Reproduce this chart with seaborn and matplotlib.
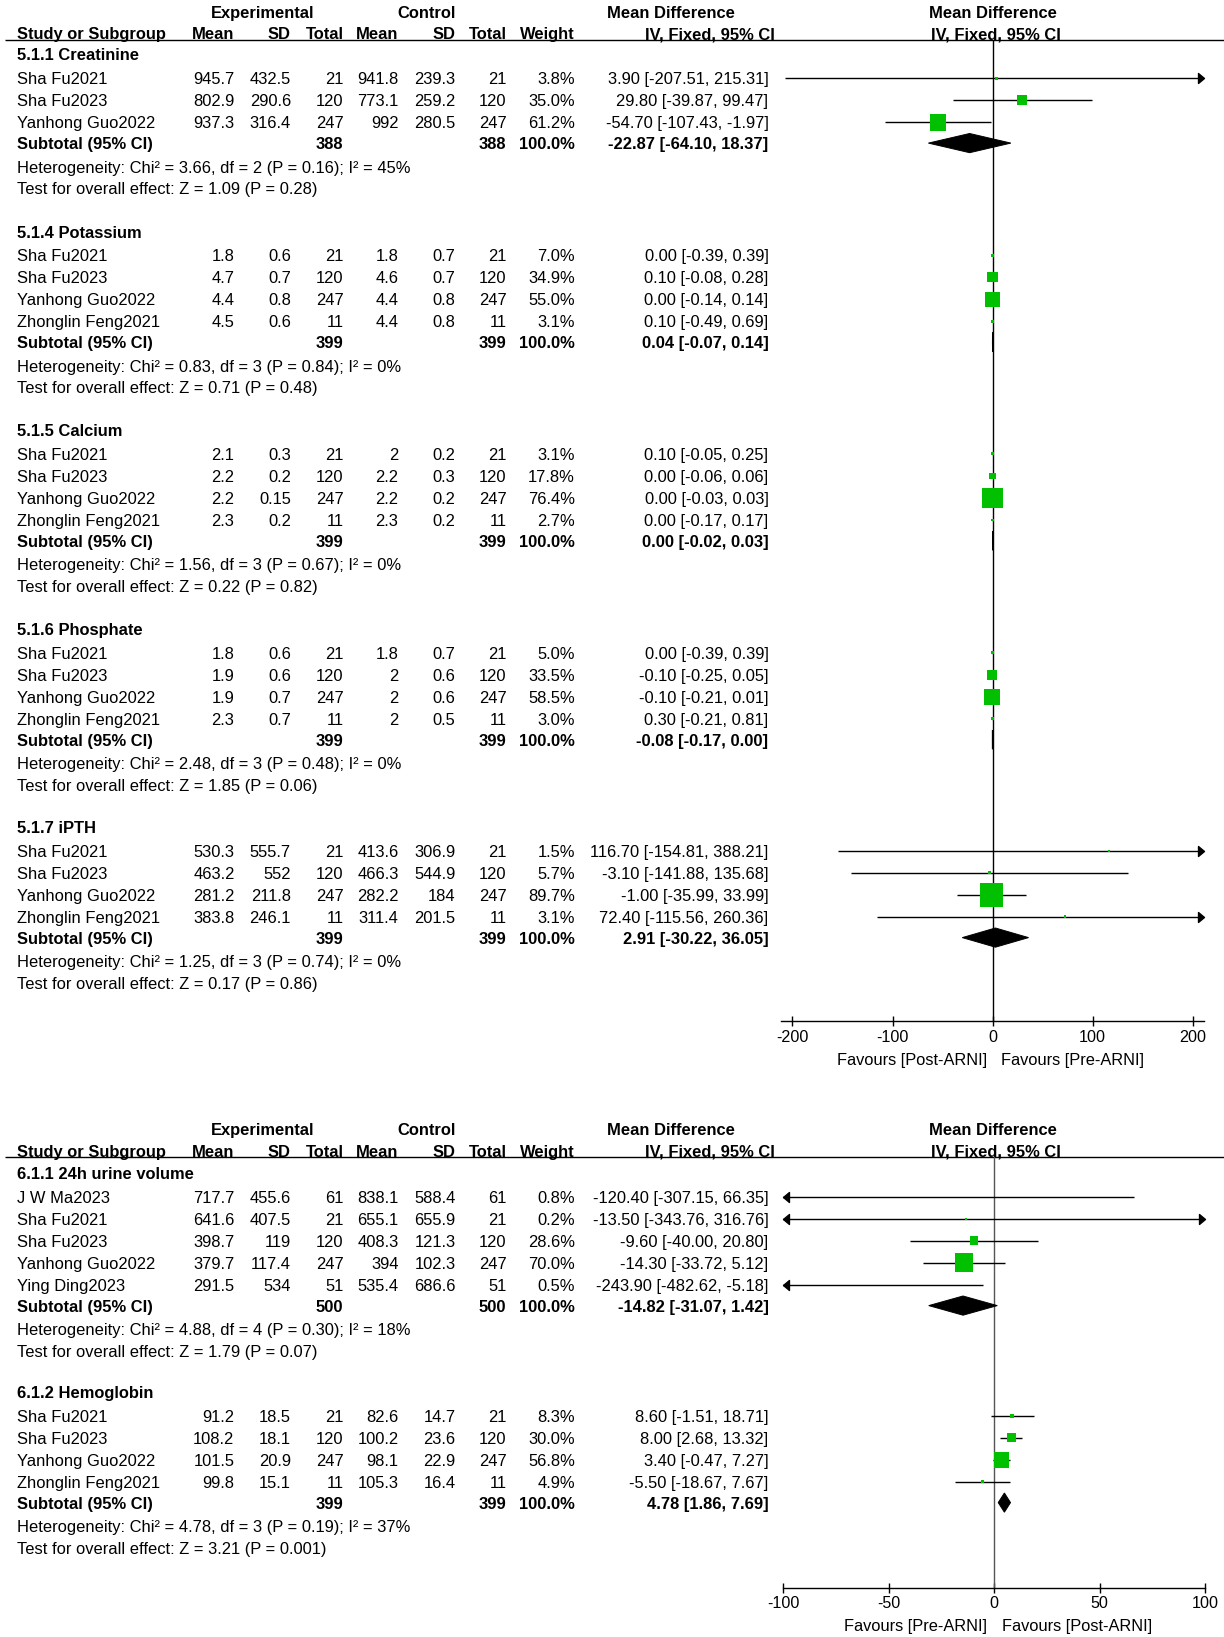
import numpy as np
import matplotlib
matplotlib.use("Agg")
import matplotlib.pyplot as plt
import seaborn as sns
from matplotlib.path import Path
from matplotlib.patches import Polygon

# ---------------- data: top panel ----------------
top_heads = ["5.1.1 Creatinine", "5.1.4 Potassium", "5.1.5 Calcium", "5.1.6 Phosphate", "5.1.7 iPTH"]
top_group = [0, 0, 0, 1, 1, 1, 1, 2, 2, 2, 2, 3, 3, 3, 3, 4, 4, 4, 4]
top_study = ["Sha Fu2021", "Sha Fu2023", "Yanhong Guo2022",
             "Sha Fu2021", "Sha Fu2023", "Yanhong Guo2022", "Zhonglin Feng2021",
             "Sha Fu2021", "Sha Fu2023", "Yanhong Guo2022", "Zhonglin Feng2021",
             "Sha Fu2021", "Sha Fu2023", "Yanhong Guo2022", "Zhonglin Feng2021",
             "Sha Fu2021", "Sha Fu2023", "Yanhong Guo2022", "Zhonglin Feng2021"]
top_exp_mean = [945.7, 802.9, 937.3, 1.8, 4.7, 4.4, 4.5, 2.1, 2.2, 2.2, 2.3, 1.8, 1.9, 1.9, 2.3, 530.3, 463.2, 281.2, 383.8]
top_exp_sd = [432.5, 290.6, 316.4, 0.6, 0.7, 0.8, 0.6, 0.3, 0.2, 0.15, 0.2, 0.6, 0.6, 0.7, 0.7, 555.7, 552, 211.8, 246.1]
top_exp_n = [21, 120, 247, 21, 120, 247, 11, 21, 120, 247, 11, 21, 120, 247, 11, 21, 120, 247, 11]
top_ctl_mean = [941.8, 773.1, 992, 1.8, 4.6, 4.4, 4.4, 2, 2.2, 2.2, 2.3, 1.8, 2, 2, 2, 413.6, 466.3, 282.2, 311.4]
top_ctl_sd = [239.3, 259.2, 280.5, 0.7, 0.7, 0.8, 0.8, 0.2, 0.3, 0.2, 0.2, 0.7, 0.6, 0.6, 0.5, 306.9, 544.9, 184, 201.5]
top_ctl_n = [21, 120, 247, 21, 120, 247, 11, 21, 120, 247, 11, 21, 120, 247, 11, 21, 120, 247, 11]
top_weight = [3.8, 35.0, 61.2, 7.0, 34.9, 55.0, 3.1, 3.1, 17.8, 76.4, 2.7, 5.0, 33.5, 58.5, 3.0, 1.5, 5.7, 89.7, 3.1]
top_md = [3.90, 29.80, -54.70, 0.00, 0.10, 0.00, 0.10, 0.10, 0.00, 0.00, 0.00, 0.00, -0.10, -0.10, 0.30, 116.70, -3.10, -1.00, 72.40]
top_lo = [-207.51, -39.87, -107.43, -0.39, -0.08, -0.14, -0.49, -0.05, -0.06, -0.03, -0.17, -0.39, -0.25, -0.21, -0.21, -154.81, -141.88, -35.99, -115.56]
top_hi = [215.31, 99.47, -1.97, 0.39, 0.28, 0.14, 0.69, 0.25, 0.06, 0.03, 0.17, 0.39, 0.05, 0.01, 0.81, 388.21, 135.68, 33.99, 260.36]
top_sub_n = [388, 399, 399, 399, 399]
top_sub_md = [-22.87, 0.04, 0.00, -0.08, 2.91]
top_sub_lo = [-64.10, -0.07, -0.02, -0.17, -30.22]
top_sub_hi = [18.37, 0.14, 0.03, 0.00, 36.05]
top_chi2 = [3.66, 0.83, 1.56, 2.48, 1.25]
top_df = [2, 3, 3, 3, 3]
top_p_het = ["0.16", "0.84", "0.67", "0.48", "0.74"]
top_i2 = [45, 0, 0, 0, 0]
top_z = [1.09, 0.71, 0.22, 1.85, 0.17]
top_p_z = ["0.28", "0.48", "0.82", "0.06", "0.86"]
top_ticks = [-200, -100, 0, 100, 200]
top_fav = ["Favours [Post-ARNI]", "Favours [Pre-ARNI]"]

# ---------------- data: bottom panel ----------------
bot_heads = ["6.1.1 24h urine volume", "6.1.2 Hemoglobin"]
bot_group = [0, 0, 0, 0, 0, 1, 1, 1, 1]
bot_study = ["J W Ma2023", "Sha Fu2021", "Sha Fu2023", "Yanhong Guo2022", "Ying Ding2023",
             "Sha Fu2021", "Sha Fu2023", "Yanhong Guo2022", "Zhonglin Feng2021"]
bot_exp_mean = [717.7, 641.6, 398.7, 379.7, 291.5, 91.2, 108.2, 101.5, 99.8]
bot_exp_sd = [455.6, 407.5, 119, 117.4, 534, 18.5, 18.1, 20.9, 15.1]
bot_exp_n = [61, 21, 120, 247, 51, 21, 120, 247, 11]
bot_ctl_mean = [838.1, 655.1, 408.3, 394, 535.4, 82.6, 100.2, 98.1, 105.3]
bot_ctl_sd = [588.4, 655.9, 121.3, 102.3, 686.6, 14.7, 23.6, 22.9, 16.4]
bot_ctl_n = [61, 21, 120, 247, 51, 21, 120, 247, 11]
bot_weight = [0.8, 0.2, 28.6, 70.0, 0.5, 8.3, 30.0, 56.8, 4.9]
bot_md = [-120.40, -13.50, -9.60, -14.30, -243.90, 8.60, 8.00, 3.40, -5.50]
bot_lo = [-307.15, -343.76, -40.00, -33.72, -482.62, -1.51, 2.68, -0.47, -18.67]
bot_hi = [66.35, 316.76, 20.80, 5.12, -5.18, 18.71, 13.32, 7.27, 7.67]
bot_sub_n = [500, 399]
bot_sub_md = [-14.82, 4.78]
bot_sub_lo = [-31.07, 1.86]
bot_sub_hi = [1.42, 7.69]
bot_chi2 = [4.88, 4.78]
bot_df = [4, 3]
bot_p_het = ["0.30", "0.19"]
bot_i2 = [18, 37]
bot_z = [1.79, 3.21]
bot_p_z = ["0.07", "0.001"]
bot_ticks = [-100, -50, 0, 50, 100]
bot_fav = ["Favours [Pre-ARNI]", "Favours [Post-ARNI]"]

# ---------------- style ----------------
sns.set_theme(style="white")
FONT = ["Liberation Sans", "DejaVu Sans"]
plt.rcParams["font.family"] = FONT
FS = 11.9
GREEN = "#00C000"

W, H = 1224, 1637
fig = plt.figure(figsize=(W / 100, H / 100), dpi=100)
fig.patch.set_facecolor("white")
ax0 = fig.add_axes([0, 0, 1, 1])
ax0.set_xlim(0, W)
ax0.set_ylim(H, 0)
ax0.axis("off")
ax0.patch.set_alpha(0)


def txt(x, y, s, ha="left", bold=False, size=FS):
    ax0.text(x, y + 6.0, s, ha=ha, va="baseline", fontsize=size,
             fontweight="bold" if bold else "normal", family=FONT, color="black")


COLS = [234.5, 291, 343.5, 398.5, 455.5, 506.5, 575, 768.5]
XL = 17

right_head = Path([(0, 0), (-0.6, 0.5), (-0.6, -0.5), (0, 0)],
                  [Path.MOVETO, Path.LINETO, Path.LINETO, Path.CLOSEPOLY])
left_head = Path([(0, 0), (0.6, 0.5), (0.6, -0.5), (0, 0)],
                 [Path.MOVETO, Path.LINETO, Path.LINETO, Path.CLOSEPOLY])


def fmt(v):
    return "{:g}".format(v)


def draw_panel(y_off, heads_y, heads, group, study, em, esd, en, cm, csd, cn, wt, md, lo, hi,
               sub_n, sub_md, sub_lo, sub_hi, chi2, dfs, p_het, i2, z, p_z,
               ax_px, axis_y, xlim, ticks, fav, zero_color, fav_x):
    # header
    r1, r2, rule = y_off + 11.7, y_off + 33.3, y_off + 39.5
    txt(262.5, r1, "Experimental", ha="center", bold=True)
    txt(427, r1, "Control", ha="center", bold=True)
    txt(671, r1, "Mean Difference", ha="center", bold=True)
    txt(993, r1, "Mean Difference", ha="center", bold=True)
    txt(XL, r2, "Study or Subgroup", bold=True)
    for x, s in zip(COLS[:7], ["Mean", "SD", "Total", "Mean", "SD", "Total", "Weight"]):
        txt(x, r2, s, ha="right", bold=True)
    txt(775, r2, "IV, Fixed, 95% CI", ha="right", bold=True)
    txt(995.5, r2, "IV, Fixed, 95% CI", ha="center", bold=True)
    ax0.plot([5, W], [rule, rule], color="black", lw=1.0, solid_capstyle="butt")

    # forest axes
    left, right = ax_px
    axf = fig.add_axes([left / W, 1 - axis_y / H, (right - left) / W, (axis_y - rule) / H])
    axf.patch.set_alpha(0)
    axf.set_xlim(*xlim)
    axf.set_ylim(axis_y, rule)
    for s in ["top", "left", "right"]:
        axf.spines[s].set_visible(False)
    axf.spines["bottom"].set_color("black")
    axf.spines["bottom"].set_linewidth(1.0)
    axf.set_xticks(ticks)
    axf.set_xticklabels([str(t) for t in ticks], fontsize=11.6, family=FONT)
    axf.tick_params(axis="x", direction="inout", length=7.5, width=1.0, color="black",
                    pad=2.5, bottom=True, labelcolor="black")
    axf.set_yticks([])
    axf.axvline(0, color=zero_color, lw=1.0, zorder=1)

    sq_x, sq_y, sq_s = [], [], []
    for g, hy in enumerate(heads_y):
        txt(XL, hy, heads[g], bold=True)
        idx = [i for i, gg in enumerate(group) if gg == g]
        y = hy + 23.8
        for k, i in enumerate(idx):
            yy = hy + 23.8 + 22.0 * k
            txt(XL, yy, study[i])
            vals = [fmt(em[i]), fmt(esd[i]), str(en[i]), fmt(cm[i]), fmt(csd[i]), str(cn[i]),
                    "{:.1f}%".format(wt[i]),
                    "{:.2f} [{:.2f}, {:.2f}]".format(md[i], lo[i], hi[i])]
            for x, s in zip(COLS, vals):
                txt(x, yy, s, ha="right")
            # CI line and arrows
            axf.plot([lo[i], hi[i]], [yy, yy], color="black", lw=1.0, solid_capstyle="butt", zorder=2)
            if hi[i] > xlim[1]:
                axf.plot([xlim[1]], [yy], marker=right_head, ms=8.6, color="black",
                         linestyle="none", clip_on=False, zorder=4)
            if lo[i] < xlim[0]:
                axf.plot([xlim[0]], [yy], marker=left_head, ms=8.6, color="black",
                         linestyle="none", clip_on=False, zorder=4)
            sq_x.append(md[i])
            sq_y.append(yy)
            sq_s.append(((1.9 + 0.24 * wt[i]) * 0.72) ** 2)
            y = yy
        ysub = y + 20.8
        txt(XL, ysub, "Subtotal (95% CI)", bold=True)
        txt(COLS[2], ysub, str(sub_n[g]), ha="right", bold=True)
        txt(COLS[5], ysub, str(sub_n[g]), ha="right", bold=True)
        txt(COLS[6], ysub, "100.0%", ha="right", bold=True)
        txt(COLS[7], ysub, "{:.2f} [{:.2f}, {:.2f}]".format(sub_md[g], sub_lo[g], sub_hi[g]),
            ha="right", bold=True)
        dh = 9.6
        axf.add_patch(Polygon([(sub_lo[g], ysub), (sub_md[g], ysub - dh), (sub_hi[g], ysub),
                               (sub_md[g], ysub + dh)], closed=True, fc="black", ec="black",
                              lw=0.7, zorder=3))
        yh = ysub + 23.5
        txt(XL, yh, "Heterogeneity: Chi\u00b2 = {:.2f}, df = {} (P = {}); I\u00b2 = {}%".format(
            chi2[g], dfs[g], p_het[g], i2[g]))
        txt(XL, yh + 21.5, "Test for overall effect: Z = {:.2f} (P = {})".format(z[g], p_z[g]))

    sns.scatterplot(x=sq_x, y=sq_y, s=sq_s, marker="s", color=GREEN, linewidth=0,
                    ax=axf, legend=False, zorder=3)
    axf.set_xlim(*xlim)
    axf.set_ylim(axis_y, rule)
    axf.set_xlabel("")
    axf.set_ylabel("")

    fy = axis_y + 37.5
    txt(fav_x[0], fy, fav[0], ha="right", size=11.8)
    txt(fav_x[1], fy, fav[1], ha="left", size=11.8)


draw_panel(0, [54.5, 231.5, 430, 629, 827], top_heads, top_group, top_study,
           top_exp_mean, top_exp_sd, top_exp_n, top_ctl_mean, top_ctl_sd, top_ctl_n,
           top_weight, top_md, top_lo, top_hi, top_sub_n, top_sub_md, top_sub_lo, top_sub_hi,
           top_chi2, top_df, top_p_het, top_i2, top_z, top_p_z,
           (781.5, 1203.5), 1021.0, (-211, 211), top_ticks, top_fav, "black", (987.5, 1001))

draw_panel(1117.5, [1173, 1392], bot_heads, bot_group, bot_study,
           bot_exp_mean, bot_exp_sd, bot_exp_n, bot_ctl_mean, bot_ctl_sd, bot_ctl_n,
           bot_weight, bot_md, bot_lo, bot_hi, bot_sub_n, bot_sub_md, bot_sub_lo, bot_sub_hi,
           bot_chi2, bot_df, bot_p_het, bot_i2, bot_z, bot_p_z,
           (783.3, 1205.3), 1587.5, (-100, 100), bot_ticks, bot_fav, "#555555", (987.5, 1002))

fig.savefig("out.png", dpi=100, facecolor="white")
